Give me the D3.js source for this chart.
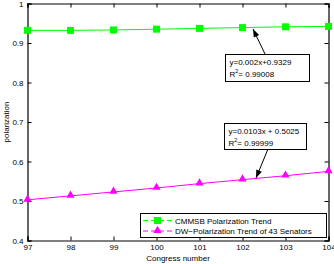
<!DOCTYPE html>
<html><head><meta charset="utf-8">
<script src="https://cdn.jsdelivr.net/npm/d3@7"></script>
<style>
body{margin:0;background:#fff;}
svg{display:block;font-family:"Liberation Sans",Arial,sans-serif;}
</style></head>
<body><svg id="c" width="334" height="264"></svg>
<script>
const congress = [97, 98, 99, 100, 101, 102, 103, 104];
const cmmsb = [0.932, 0.932, 0.933, 0.935, 0.937, 0.939, 0.941, 0.942];
const dw = [0.503, 0.513, 0.523, 0.533, 0.544, 0.554, 0.564, 0.575];
const yTicks = [0.4, 0.5, 0.6, 0.7, 0.8, 0.9, 1];
const seriesNames = ["CMMSB Polarization Trend", "DW\u2212Polarization Trend of 43 Senators"];
const fit1 = ["y=0.002x+0.9329", "0.99008"];
const fit2 = ["y=0.0103x + 0.5025", "0.99999"];

const svg = d3.select("#c");
const L = 27.5, R = 328.5, T = 3.5, B = 240.5;
const x = d3.scaleLinear().domain([97, 104]).range([L, R]);
const y = d3.scaleLinear().domain([0.4, 1]).range([B, T]);
const green = "#00ff00", mag = "#ff00ff";
const fs = 8;

// axes
const gB = svg.append("g").attr("transform", `translate(0,${B})`)
  .call(d3.axisBottom(x).tickValues(congress).tickSize(-4).tickPadding(4).tickFormat(d3.format("d")));
const gT = svg.append("g").attr("transform", `translate(0,${T})`)
  .call(d3.axisTop(x).tickValues(congress).tickSize(-4).tickFormat(""));
const gL = svg.append("g").attr("transform", `translate(${L},0)`)
  .call(d3.axisLeft(y).tickValues(yTicks).tickSize(-4).tickPadding(4).tickFormat(d => d === 1 ? "1" : d3.format(".1f")(d)));
const gR = svg.append("g").attr("transform", `translate(${R},0)`)
  .call(d3.axisRight(y).tickValues(yTicks).tickSize(-4).tickFormat(""));
[gB, gT, gL, gR].forEach(g => {
  g.selectAll("path.domain").attr("stroke", "#000").attr("stroke-width", 1.2);
  g.selectAll("line").attr("stroke", "#000");
  g.selectAll("text").attr("font-size", fs).attr("fill", "#000").attr("font-family", "Liberation Sans, Arial, sans-serif");
});

// lines
const line = d3.line().x((d, i) => x(congress[i])).y(d => y(d));
svg.append("path").datum(cmmsb).attr("d", line).attr("fill", "none").attr("stroke", green).attr("stroke-width", 1);
svg.append("path").datum(dw).attr("d", line).attr("fill", "none").attr("stroke", mag).attr("stroke-width", 1);

// markers
svg.selectAll("rect.sq").data(cmmsb).enter().append("rect")
  .attr("x", (d, i) => x(congress[i]) - 3.5).attr("y", d => y(d) - 3.5)
  .attr("width", 7).attr("height", 7).attr("fill", green);
const tri = d3.symbol().type(d3.symbolTriangle).size(30);
svg.selectAll("path.tri").data(dw).enter().append("path")
  .attr("d", tri).attr("fill", mag)
  .attr("transform", (d, i) => `translate(${x(congress[i])},${y(d) - 0.5})`);

// annotation helper
function annot(bx, by, bw, bh, lines, ax0, ay0, ax1, ay1) {
  svg.append("rect").attr("x", bx).attr("y", by).attr("width", bw).attr("height", bh)
    .attr("fill", "#fff").attr("stroke", "#000").attr("stroke-width", 1);
  const t1 = svg.append("text").attr("x", bx + 4).attr("y", by + 10).attr("font-size", fs).text(lines[0]);
  const t2 = svg.append("text").attr("x", bx + 4).attr("y", by + 22).attr("font-size", fs);
  t2.append("tspan").text("R");
  t2.append("tspan").attr("dy", -3.5).attr("font-size", 5.5).text("2");
  t2.append("tspan").attr("dy", 3.5).text("= " + lines[1]);
  svg.append("line").attr("x1", ax0).attr("y1", ay0).attr("x2", ax1).attr("y2", ay1)
    .attr("stroke", "#000").attr("stroke-width", 1);
  const ang = Math.atan2(ay1 - ay0, ax1 - ax0);
  const hl = 8, hw = 3;
  const px = ax1 - hl * Math.cos(ang), py = ay1 - hl * Math.sin(ang);
  const pts = [[ax1, ay1], [px + hw * Math.sin(ang), py - hw * Math.cos(ang)], [px - hw * Math.sin(ang), py + hw * Math.cos(ang)]];
  svg.append("path").attr("d", "M" + pts.map(p => p.join(",")).join("L") + "Z").attr("fill", "#000");
}
annot(225.5, 54.5, 84, 27, fit1, 265, 54, 253, 29);
annot(224.5, 123.5, 82, 26, fit2, 268, 149, 256, 178);

// legend
const lg = svg.append("g");
lg.append("rect").attr("x", 140.5).attr("y", 213.5).attr("width", 186).attr("height", 24)
  .attr("fill", "#fff").attr("stroke", "#000").attr("stroke-width", 1);
const items = [{c: green, t: "sq", n: seriesNames[0], yy: 220.5}, {c: mag, t: "tri", n: seriesNames[1], yy: 231}];
items.forEach(it => {
  lg.append("line").attr("x1", 143).attr("x2", 172).attr("y1", it.yy).attr("y2", it.yy)
    .attr("stroke", it.c).attr("stroke-dasharray", "5,3");
  if (it.t === "sq") lg.append("rect").attr("x", 154).attr("y", it.yy - 3.5).attr("width", 7).attr("height", 7).attr("fill", it.c);
  else lg.append("path").attr("d", tri).attr("fill", it.c).attr("transform", `translate(157.5,${it.yy - 0.5})`);
  lg.append("text").attr("x", 175).attr("y", it.yy + 3).attr("font-size", fs).text(it.n);
});

// labels
svg.append("text").attr("x", (L + R) / 2).attr("y", 261).attr("text-anchor", "middle").attr("font-size", fs).text("Congress number");
svg.append("text").attr("transform", `translate(9,${(T + B) / 2}) rotate(-90)`).attr("text-anchor", "middle").attr("font-size", fs).text("polarization");
</script></body></html>
